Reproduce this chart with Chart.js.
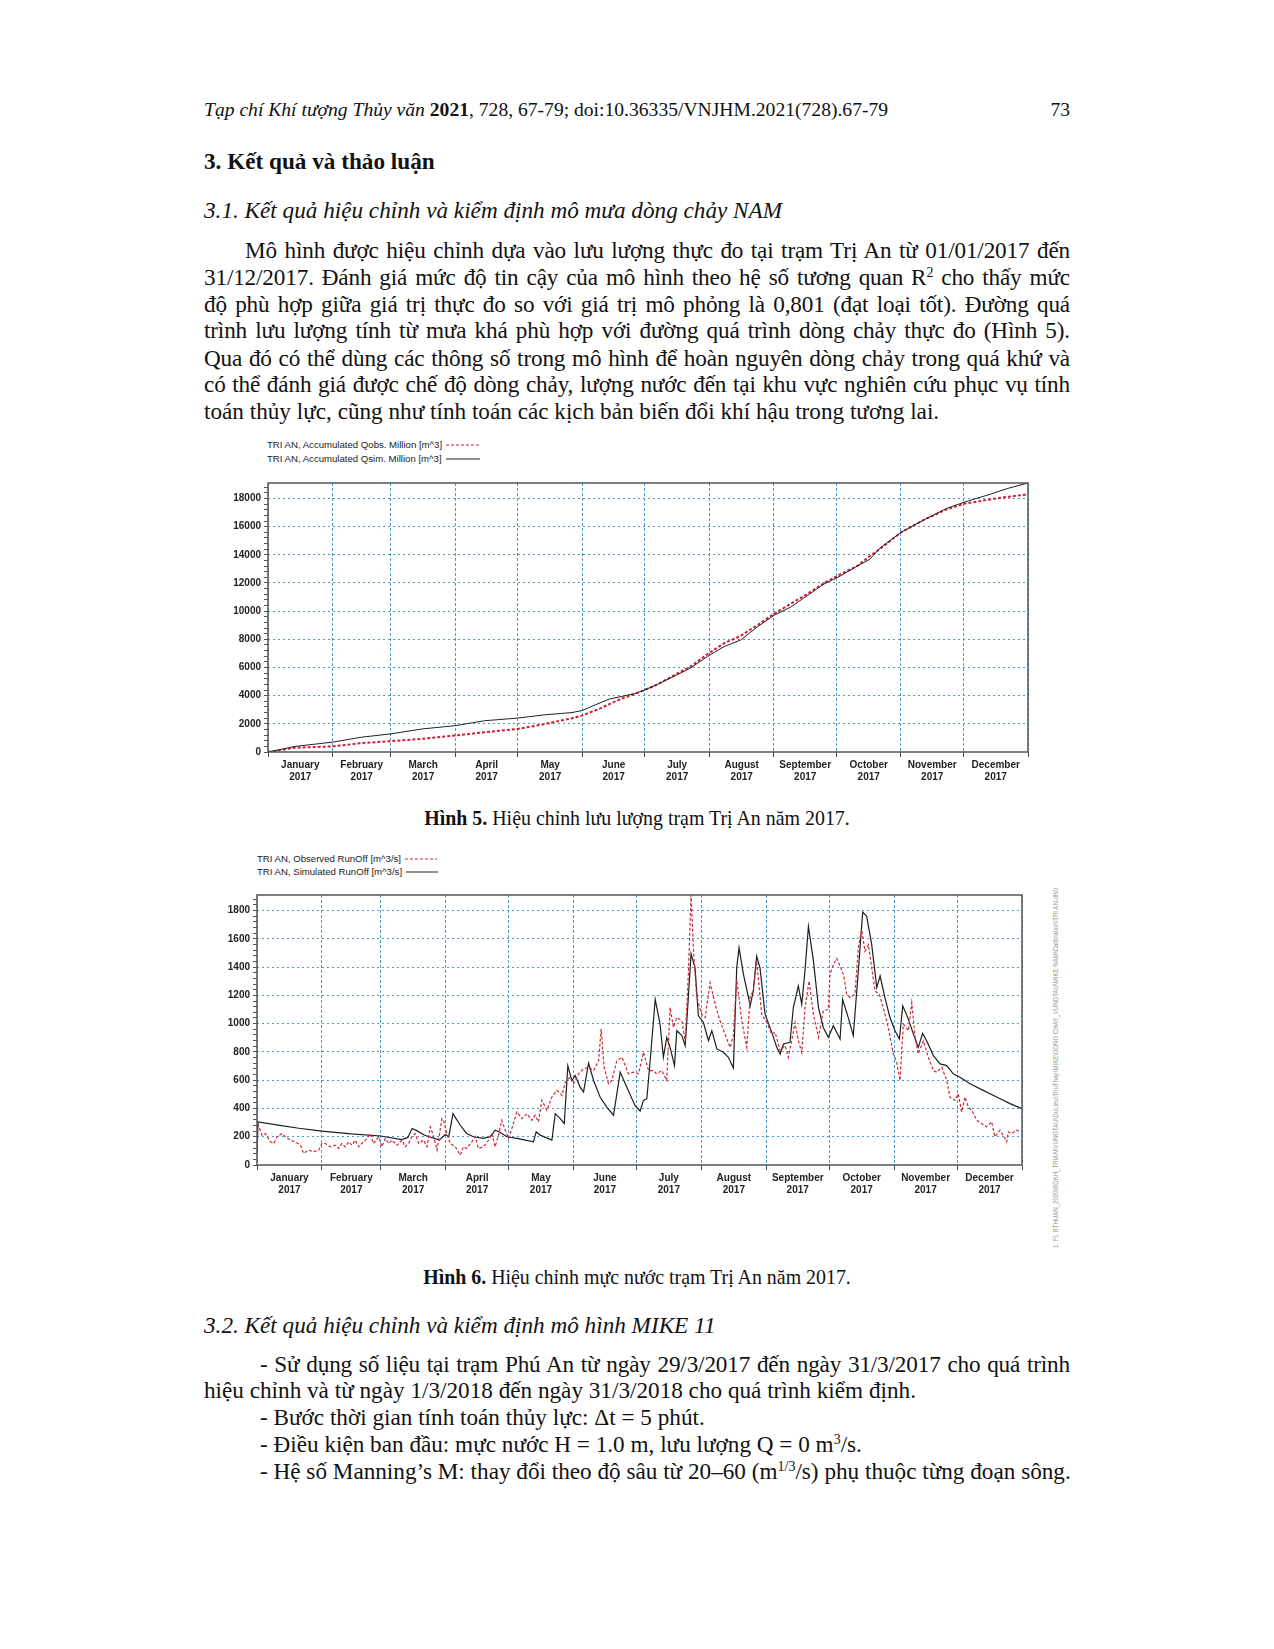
<!DOCTYPE html>
<html>
<head>
<meta charset="utf-8">
<script src="https://cdn.jsdelivr.net/npm/chart.js@4.4.0/dist/chart.umd.min.js"></script>
<style>
  body { margin: 0; background: #fff; }
  #page { position: relative; width: 1274px; height: 1649px; background: #fff; overflow: hidden; }
  .ln { position: absolute; left: 204px; width: 866px; font-family: 'Liberation Serif', 'Times New Roman', serif;
        font-size: 23.2px; line-height: 26px; color: #111; white-space: nowrap; }
  .just { text-align: justify; text-align-last: justify; white-space: normal; letter-spacing: -0.15px; }
  .ind { padding-left: 41px; box-sizing: border-box; }
  .bul { padding-left: 56px; box-sizing: border-box; }
  sup { font-size: 14px; line-height: 0; vertical-align: 8px; }
  .cap { text-align: center; font-size: 19.9px; }
  .leg { position: absolute; font-family: 'Liberation Sans', Arial, sans-serif; font-size: 9.6px; line-height: 14px;
         height: 14px; color: #222; white-space: nowrap; }
  .leg svg { vertical-align: middle; margin-left: 4px; }
  canvas { position: absolute; }
</style>
</head>
<body>
<div id="page">
  <div class="ln" style="top:98px; font-size:19.6px; line-height:24px;"><i>Tạp chí Khí tượng Thủy văn</i> <b>2021</b>, 728, 67-79; doi:10.36335/VNJHM.2021(728).67-79</div>
  <div class="ln" style="top:98px; font-size:19.6px; line-height:24px; text-align:right;">73</div>

  <div class="ln" style="top:148px;"><b>3. Kết quả và thảo luận</b></div>
  <div class="ln" style="top:197px;"><i>3.1. Kết quả hiệu chỉnh và kiểm định mô mưa dòng chảy NAM</i></div>

  <div class="ln just ind" style="top:237px;">Mô hình được hiệu chỉnh dựa vào lưu lượng thực đo tại trạm Trị An từ 01/01/2017 đến</div>
  <div class="ln just" style="top:264px;">31/12/2017. Đánh giá mức độ tin cậy của mô hình theo hệ số tương quan R<sup>2</sup> cho thấy mức</div>
  <div class="ln just" style="top:291px;">độ phù hợp giữa giá trị thực đo so với giá trị mô phỏng là 0,801 (đạt loại tốt). Đường quá</div>
  <div class="ln just" style="top:317px;">trình lưu lượng tính từ mưa khá phù hợp với đường quá trình dòng chảy thực đo (Hình 5).</div>
  <div class="ln just" style="top:345px;">Qua đó có thể dùng các thông số trong mô hình để hoàn nguyên dòng chảy trong quá khứ và</div>
  <div class="ln just" style="top:371px;">có thể đánh giá được chế độ dòng chảy, lượng nước đến tại khu vực nghiên cứu phục vụ tính</div>
  <div class="ln" style="top:398px;">toán thủy lực, cũng như tính toán các kịch bản biến đổi khí hậu trong tương lai.</div>

  <div class="leg" style="left:267px; top:438px;">TRI AN, Accumulated Qobs. Million [m^3]<svg width="34" height="6"><line x1="0" y1="3" x2="34" y2="3" stroke="#d02030" stroke-width="1.2" stroke-dasharray="3,2"/></svg></div>
  <div class="leg" style="left:267px; top:452px;">TRI AN, Accumulated Qsim. Million [m^3]<svg width="34" height="6"><line x1="0" y1="3" x2="34" y2="3" stroke="#222" stroke-width="1"/></svg></div>
  <canvas id="chartAcc" width="840" height="320" style="left:200px; top:474px;"></canvas>

  <div class="ln cap" style="top:805px;"><b>Hình 5.</b> Hiệu chỉnh lưu lượng trạm Trị An năm 2017.</div>

  <div class="leg" style="left:257px; top:852px;">TRI AN, Observed RunOff [m^3/s]<svg width="32" height="6"><line x1="0" y1="3" x2="32" y2="3" stroke="#cc2a36" stroke-width="1.2" stroke-dasharray="3,2"/></svg></div>
  <div class="leg" style="left:257px; top:865px;">TRI AN, Simulated RunOff [m^3/s]<svg width="32" height="6"><line x1="0" y1="3" x2="32" y2="3" stroke="#222" stroke-width="1"/></svg></div>
  <canvas id="chartRun" width="845" height="324" style="left:190px; top:886px;"></canvas>

  <svg style="position:absolute; left:1048px; top:885px;" width="14" height="366">
    <text transform="translate(10,363) rotate(-90)" font-family="Liberation Sans, Arial" font-size="7" fill="#999"
          textLength="360" lengthAdjust="spacingAndGlyphs">1. PL BTHUAN_2020\BDKH_TRIAN\VUNGTAU\DuLieu\ThuThap\MIKE\DONG CHAY_VUNGTAU\MIKE NAM\Calibration\TRI AN.dfs0</text>
  </svg>

  <div class="ln cap" style="top:1264px;"><b>Hình 6.</b> Hiệu chỉnh mực nước trạm Trị An năm 2017.</div>

  <div class="ln" style="top:1312px;"><i>3.2. Kết quả hiệu chỉnh và kiểm định mô hình MIKE 11</i></div>
  <div class="ln just bul" style="top:1351px;">- Sử dụng số liệu tại trạm Phú An từ ngày 29/3/2017 đến ngày 31/3/2017 cho quá trình</div>
  <div class="ln" style="top:1377px;">hiệu chỉnh và từ ngày 1/3/2018 đến ngày 31/3/2018 cho quá trình kiểm định.</div>
  <div class="ln bul" style="top:1404px;">- Bước thời gian tính toán thủy lực: Δt = 5 phút.</div>
  <div class="ln bul" style="top:1431px;">- Điều kiện ban đầu: mực nước H = 1.0 m, lưu lượng Q = 0 m<sup>3</sup>/s.</div>
  <div class="ln bul" style="top:1458px;">- Hệ số Manning’s M: thay đổi theo độ sâu từ 20–60 (m<sup>1/3</sup>/s) phụ thuộc từng đoạn sông.</div>
</div>

<script>
// months of 2017, day offsets from 1 Jan
var months = ['January', 'February', 'March', 'April', 'May', 'June', 'July', 'August', 'September', 'October', 'November', 'December'];
var monthStartDays = [0, 31, 59, 90, 120, 151, 181, 212, 243, 273, 304, 334, 365];
var yearLabel = '2017';

// Hinh 5 - accumulated volume, million m3
var accTicks = [0, 2000, 4000, 6000, 8000, 10000, 12000, 14000, 16000, 18000];
var accMax = 19100;
var accDays = [0, 13, 31, 45, 59, 74, 90, 104, 120, 133, 146, 151, 158, 164, 170, 176, 180, 187, 195, 203, 211, 219, 227, 235, 243, 251, 259, 267, 275, 283, 289, 294, 304, 315, 326, 335, 347, 355, 365];
var accObs = [0, 304, 397, 631, 772, 935, 1169, 1403, 1637, 1987, 2400, 2600, 3000, 3400, 3800, 4100, 4350, 4793, 5447, 6078, 6943, 7715, 8253, 9001, 9820, 10521, 11222, 11994, 12625, 13209, 13911, 14425, 15594, 16483, 17231, 17652, 17933, 18120, 18283];
var accSim = [0, 397, 701, 1052, 1286, 1637, 1870, 2221, 2408, 2642, 2800, 2950, 3400, 3760, 3950, 4150, 4350, 4793, 5377, 5962, 6780, 7482, 7950, 8884, 9702, 10287, 11105, 11924, 12508, 13209, 13677, 14495, 15594, 16483, 17301, 17769, 18306, 18704, 19100];

// Hinh 6 - runoff, m3/s
var runTicks = [0, 200, 400, 600, 800, 1000, 1200, 1400, 1600, 1800];
var runMax = 1910;
var obsDays = [0, 1, 2.4, 4, 6.4, 8, 9.5, 11.9, 13.5, 15.9, 18.3, 20.7, 22.3, 24.6, 27, 29.4, 31, 32.6, 35, 37.4,
  39, 40.5, 42.1, 43.7, 45.3, 46.9, 48.5, 50, 52.5, 54, 55.6, 58, 59.6, 61.2, 62.8, 64.4, 66.8, 69.2, 70.7, 72.3,
  73.9, 75.5, 77.1, 79.5, 81.1, 82.7, 84.3, 85.9, 88.2,
  89, 90.6, 92.2, 94.6, 97, 98.5, 100.1, 102.5, 104.1, 105.7, 108.1, 110.5, 112.1, 113.6, 115.2, 116.8, 118.4, 120, 121.6, 124,
  126.4, 128.8, 131.1, 132.7, 134.3, 135.9, 138.3, 140.7, 143.1, 145.5, 147.1, 149.4, 151, 153.4, 155.8, 158.2, 160.6, 163, 164.2, 165.6,
  167.7, 169.3, 171.7, 174.1, 175.7, 177.2, 179.6,
  182, 184.4, 186.8, 189.1, 190.7, 193.1, 195.5, 197.1, 198.7, 200.3, 202.7, 204.3, 205.8, 207.1, 208.2, 209.8, 212.2, 213.8, 216.2, 218.6,
  220.9, 223.3, 225.7, 227.3, 228.9, 231.3, 233.7, 235.3, 236.8, 238.4, 240.8, 243.2, 245.6, 247.2, 249.6, 252, 253.5, 255.1, 256.7, 258.3,
  259.9, 261.5, 263.4, 265.5, 267.9, 270.2, 272.6,
  273.4, 275, 276.6, 278.2, 279.8, 281.4, 283, 285.3, 286.9, 288.5, 290.1, 291.7, 293.3, 294.9, 296.9, 298.8, 301.2, 303.6, 305.2, 306.8,
  308.4, 310.8, 312.4, 314, 315.5, 317.9, 320.3, 322.7, 324.3, 326.7, 329.1, 330.6, 333, 334.6, 336.2, 337.8, 339.4, 341, 343.4, 345.7,
  348.1, 350.5, 352.1, 354.5, 356.9, 357.7, 358.5, 360.1, 362.4, 364.3];
var obsValues = [290, 270, 210, 222, 165, 152, 200, 222, 200, 176, 164, 140, 82, 105, 94, 105, 152, 152, 129, 140,
  117, 152, 129, 164, 140, 176, 129, 152, 188, 222, 152, 200, 129, 188, 152, 176, 140, 176, 129, 152,
  200, 222, 152, 176, 129, 270, 200, 105, 328,
  316, 222, 152, 129, 70, 129, 117, 164, 200, 117, 129, 176, 222, 129, 211, 316, 246, 188, 258, 375,
  328, 363, 316, 352, 305, 457, 387, 481, 528, 492, 586, 621, 575, 645, 680, 692, 668, 739, 961, 692,
  575, 598, 739, 762, 703, 645, 657,
  645, 797, 668, 668, 645, 668, 598, 1114, 973, 1043, 1020, 879, 1348, 1911, 1536, 1184, 1067, 1043, 1290, 1137,
  1020, 926, 832, 915, 1313, 1020, 832, 1196, 1231, 1442, 1067, 1008, 926, 938, 809, 844, 762, 879, 1008, 879,
  797, 1114, 1301, 1067, 903, 1090, 1102,
  1348, 1419, 1461, 1407, 1348, 1208, 1184, 1208, 1536, 1665, 1512, 1559, 1395, 1231, 1208, 1114, 973, 786, 727, 598,
  997, 950, 1149, 903, 786, 879, 762, 668, 657, 692, 598, 481, 457, 504, 375, 481, 410, 387, 317, 293,
  270, 305, 200, 246, 188, 164, 234, 222, 246, 234];
var simDays = [0, 0.5, 10, 20, 31, 45, 59, 69, 72, 74, 76, 80, 87,
  89.8, 91.5, 93.5, 97, 100, 103.3, 108, 111.3, 113.6, 115.5,
  119.2, 124, 131.9, 133.2, 135.1, 140.7, 142.3, 144.7, 146.6, 148.3,
  150.2, 151.8, 154.2, 155.8, 158.2, 160.6, 163.7, 166.9, 170.1, 173.3,
  176.4, 180.4, 182.8, 184.4, 186, 187.6, 190, 192.3, 193.9, 195.5,
  197.1, 199.2, 200.3, 202.7, 204.3, 205.8, 207.1, 209, 210.6, 213,
  215.4, 217, 219.4, 222.5, 224.9, 227.3, 228.9, 230, 232.1, 234.5,
  235.3, 236.8, 238.4, 240, 242.4, 245.6, 248, 249.6, 251.2, 254.3,
  255.9, 258.3, 259.9, 261.5, 263.1, 265.5, 267.9, 270.2, 272.6, 275,
  278.2, 279.4, 282.1, 284.5, 286.9, 289, 290.9, 293.3, 295.7, 297.3,
  299.6, 302, 304.4, 306.5, 308.1, 310.8, 313.2, 315.5, 317.6, 319.5,
  322.7, 325.9, 329.1, 332.2, 335.4, 340.2, 346.5, 352.9, 359.3, 365];
var simValues = [80, 305, 282, 260, 240, 220, 205, 180, 195, 258, 245, 210, 176,
  215, 200, 363, 281, 223, 200, 188, 200, 246, 235,
  200, 188, 164, 234, 211, 176, 363, 328, 293, 703,
  598, 633, 551, 516, 720, 598, 481, 410, 352, 657,
  551, 420, 382, 457, 469, 739, 1172, 997, 762, 903,
  832, 703, 950, 915, 844, 1184, 1494, 1395, 1055, 1008,
  879, 950, 821, 797, 762, 687, 1400, 1536, 1348, 1184,
  1126, 1231, 1477, 1395, 1067, 938, 832, 786, 856, 868,
  1114, 1266, 1137, 1383, 1688, 1442, 1114, 973, 903, 985,
  891, 1172, 1043, 915, 1372, 1789, 1759, 1559, 1255, 1337,
  1184, 1043, 950, 891, 1126, 1032, 926, 832, 931, 879,
  774, 715, 703, 645, 621, 575, 528, 481, 434, 399];

var gridBlue = '#4a9cc9';
var axisFont = { family: "'Liberation Sans', Arial, sans-serif", size: 10, weight: 'bold' };

function toPoints(days, values) {
  var pts = [];
  for (var i = 0; i < days.length; i++) pts.push({ x: days[i], y: values[i] });
  return pts;
}

// frame round the plot area
var framePlugin = {
  id: 'frame',
  afterDatasetsDraw: function (chart) {
    var a = chart.chartArea, c = chart.ctx;
    c.save();
    c.strokeStyle = '#555';
    c.lineWidth = 1.5;
    c.strokeRect(a.left, a.top, a.right - a.left, a.bottom - a.top);
    c.restore();
  }
};

function xAxis(h) {
  return {
    type: 'linear', min: 0, max: 365,
    afterBuildTicks: function (scale) {
      var t = [];
      for (var i = 0; i < 12; i++) {
        t.push({ value: monthStartDays[i] });
        t.push({ value: (monthStartDays[i] + monthStartDays[i + 1]) / 2 });
      }
      t.push({ value: 365 });
      scale.ticks = t;
    },
    afterFit: function (scale) { scale.height = h; },
    ticks: {
      autoSkip: false, maxRotation: 0, padding: 2, color: '#222', font: axisFont,
      callback: function (v, i) { return i % 2 ? [months[(i - 1) / 2], yearLabel] : ''; }
    },
    grid: {
      tickLength: 5,
      color: function (ctx) { return ctx.index % 2 ? 'rgba(0,0,0,0)' : gridBlue; },
      tickColor: function (ctx) { return ctx.index % 2 ? 'rgba(0,0,0,0)' : '#444'; }
    },
    border: { display: false, dash: [3, 2] }
  };
}

function yAxis(majors, max, w) {
  var step = (majors[1] - majors[0]) / 5;
  return {
    type: 'linear', min: 0, max: max,
    afterBuildTicks: function (scale) {
      var t = [];
      for (var v = 0; v <= max; v += step) t.push({ value: Math.round(v) });
      scale.ticks = t;
    },
    afterFit: function (scale) { scale.width = w; },
    ticks: {
      autoSkip: false, padding: 3, color: '#222', font: axisFont,
      callback: function (v) { return majors.indexOf(v) >= 0 ? String(v) : ''; }
    },
    grid: {
      tickLength: 4,
      color: function (ctx) { return majors.indexOf(ctx.tick.value) >= 0 && ctx.tick.value > 0 ? gridBlue : 'rgba(0,0,0,0)'; },
      tickColor: '#555'
    },
    border: { display: false, dash: [2, 3] }
  };
}

function lineSet(pts, color, width, dash) {
  return { data: pts, borderColor: color, borderWidth: width, borderDash: dash, pointRadius: 0, fill: false, tension: 0 };
}

new Chart(document.getElementById('chartAcc'), {
  type: 'line',
  data: {
    datasets: [
      lineSet(toPoints(accDays, accSim), '#222', 1, []),
      lineSet(toPoints(accDays, accObs), '#d02030', 2, [3, 2])
    ]
  },
  options: {
    responsive: false, animation: false,
    layout: { padding: { top: 6, right: 12, left: 0, bottom: 0 } },
    plugins: { legend: { display: false }, tooltip: { enabled: false } },
    scales: { x: xAxis(42), y: yAxis(accTicks, accMax, 68) }
  },
  plugins: [framePlugin]
});

new Chart(document.getElementById('chartRun'), {
  type: 'line',
  data: {
    datasets: [
      lineSet(toPoints(obsDays, obsValues), '#cc2a36', 1.2, [3, 2]),
      lineSet(toPoints(simDays, simValues), '#1e1e1e', 1.2, [])
    ]
  },
  options: {
    responsive: false, animation: false,
    layout: { padding: { top: 7, right: 13, left: 0, bottom: 0 } },
    plugins: { legend: { display: false }, tooltip: { enabled: false } },
    scales: { x: xAxis(45), y: yAxis(runTicks, runMax, 67) }
  },
  plugins: [framePlugin]
});
</script>
</body>
</html>
